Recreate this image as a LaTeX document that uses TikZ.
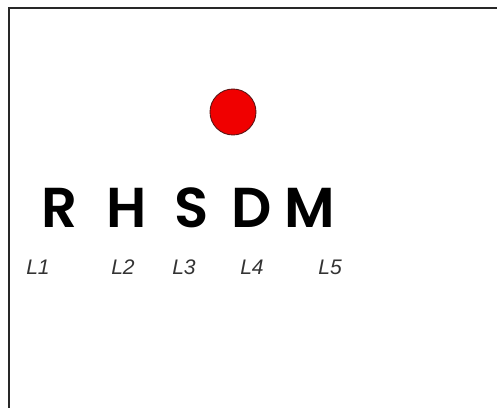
\documentclass[tikz,border=0pt]{standalone}
\usepackage{fontspec}
\newfontfamily\letterfont{Poppins}[BoldFont={Poppins SemiBold}]
\newfontfamily\labelfont{Liberation Sans}
\usepackage{xcolor}
\definecolor{frame}{RGB}{40,40,40}
\definecolor{dotred}{RGB}{240,0,0}
\definecolor{dotrim}{RGB}{90,20,20}
\usetikzlibrary{positioning}
\tikzset{
  %% big bold letters
  letter/.style={anchor=base, inner sep=0pt,
    font=\letterfont\bfseries\fontsize{32}{36}\selectfont, text=black},
  %% small italic tags below the letters
  tag/.style={anchor=base, inner sep=0pt,
    font=\labelfont\itshape\fontsize{12}{14}\selectfont, text=black!80},
}

\begin{document}
\begin{tikzpicture}[x=0.02cm, y=-0.02cm]
\useasboundingbox (0,0) rectangle (497,408);
\coordinate (corner) at (9,8);
\coordinate (topend) at (497,8);
\coordinate (leftend) at (9,408);
\draw[frame, line width=0.9pt] (topend) -- (corner) -- (leftend);

\node[circle, fill=dotred, draw=dotrim, line width=0.5pt,
      minimum size=46*0.02cm, inner sep=0pt] (dot) at (233,112) {};

\node[letter] (R) at (60,228) {R};
\node[letter] (H) at (127,228) {H};
\node[letter] (S) at (192,228) {S};
\node[letter] (D) at (252,228) {D};
\node[letter] (M) at (310,228) {M};

\node[tag] (L1) at (38,275) {L1};
\node[tag] (L2) at (123,275) {L2};
\node[tag] (L3) at (184,275) {L3};
\node[tag] (L4) at (252,275) {L4};
\node[tag] (L5) at (330,275) {L5};
\end{tikzpicture}
\end{document}
